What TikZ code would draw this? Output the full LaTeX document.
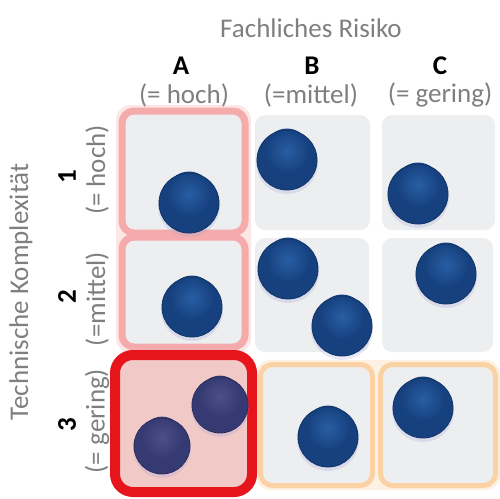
\documentclass[tikz,border=0pt]{standalone}
\usepackage{fontspec}
\setmainfont{Carlito}
\definecolor{txtgray}{HTML}{7F7F7F}
\definecolor{cellgray}{HTML}{EDEEF0}
\definecolor{pinkedge}{HTML}{F5ABAB}
\definecolor{peachedge}{HTML}{FAD2A4}
\definecolor{hotred}{HTML}{E6141B}
\definecolor{hotfill}{HTML}{F1CAC8}
\definecolor{balldark}{HTML}{16407E}
\definecolor{balllight}{HTML}{285EA3}
\definecolor{ballrim}{HTML}{103568}
\definecolor{mutedark}{HTML}{363A72}
\definecolor{mutelight}{HTML}{4B5089}
\definecolor{muterim}{HTML}{2A2D5E}

% one glossy ball: #1 radius, #2 base colour, #3 highlight colour, #4 rim colour
\newcommand\glossball[4]{%
  \fill[black!40!blue!40, opacity=0.22] (0,3) circle[radius=#1+1];
  \fill[#2] (0,0) circle[radius=#1];
  \shade[inner color=#3, outer color=#2] (0,-0.3*#1) circle[radius=0.75*#1];
  \draw[#4, line width=0.8pt] (0,0) circle[radius=#1];
}

\begin{document}
\begin{tikzpicture}[x=1pt,y=-1pt,
  lbl/.style={inner sep=0pt, font=\fontsize{27}{32}\selectfont, text=txtgray},
  head/.style={inner sep=0pt, font=\fontsize{27}{32}\selectfont\bfseries, text=black},
  cell/.style={fill=cellgray, rounded corners=10pt, inner sep=0pt, outer sep=0pt},
  pinkcell/.style={cell, rounded corners=12pt, draw=pinkedge, line width=7pt},
  peachcell/.style={cell, rounded corners=12pt, draw=peachedge, line width=5pt},
  hotcell/.style={fill=hotfill, draw=hotred, line width=10pt, rounded corners=18pt, inner sep=0pt},
  ball/.pic={\glossball{30}{balldark}{balllight}{ballrim}},
  muteball/.pic={\glossball{28}{mutedark}{mutelight}{muterim}},
]
\useasboundingbox (0,0) rectangle (500,498);

% headings
\node[lbl] (title) at (311,28) {Fachliches Risiko};
\node[head] (hA) at (181,66) {A};
\node[head] (hB) at (312,66) {B};
\node[head] (hC) at (440,66) {C};
\node[lbl] (sA) at (184,95) {(= hoch)};
\node[lbl] (sB) at (311,95) {(=mittel)};
\node[lbl] (sC) at (440,95) {(= gering)};

\node[lbl, rotate=90] (side) at (21,292) {Technische Komplexität};
\node[head, rotate=90] (h1) at (67,177) {1};
\node[head, rotate=90] (h2) at (67,297) {2};
\node[head, rotate=90] (h3) at (67,425) {3};
\node[lbl, rotate=90] (s1) at (97,170) {(= hoch)};
\node[lbl, rotate=90] (s2) at (97,299) {(=mittel)};
\node[lbl, rotate=90] (s3) at (97,421) {(= gering)};

% soft halos behind the coloured frames
\fill[pinkedge, opacity=0.3, rounded corners=15pt] (116,105) rectangle (251,353);
\fill[peachedge, opacity=0.3, rounded corners=14pt] (256,360) rectangle (500,490);

% grid cells
\node[pinkcell, minimum width=123pt, minimum height=122pt] (a1) at (183.5,172) {};
\node[pinkcell, minimum width=123pt, minimum height=110pt] (a2) at (183.5,292) {};
\node[cell, minimum width=115pt, minimum height=115pt] (b1) at (312.5,172.5) {};
\node[cell, minimum width=113pt, minimum height=115pt] (c1) at (438.5,172.5) {};
\node[cell, minimum width=114pt, minimum height=114pt] (b2) at (312,295) {};
\node[cell, minimum width=111pt, minimum height=114pt] (c2) at (437.5,295) {};
\node[peachcell, minimum width=112pt, minimum height=121pt] (b3) at (316.5,425) {};
\node[peachcell, minimum width=115pt, minimum height=121pt] (c3) at (438,425) {};
\node[hotcell, minimum width=137pt, minimum height=137pt] (a3) at (183.5,423.5) {};

% balls
\pic at (189,203) {ball};
\pic at (287,160) {ball};
\pic at (418,194) {ball};
\pic at (192,307) {ball};
\pic at (288,269) {ball};
\pic at (342,326) {ball};
\pic at (446,274) {ball};
\pic at (220,405) {muteball};
\pic at (162,446) {muteball};
\pic at (328,437) {ball};
\pic at (423,408) {ball};
\end{tikzpicture}
\end{document}
